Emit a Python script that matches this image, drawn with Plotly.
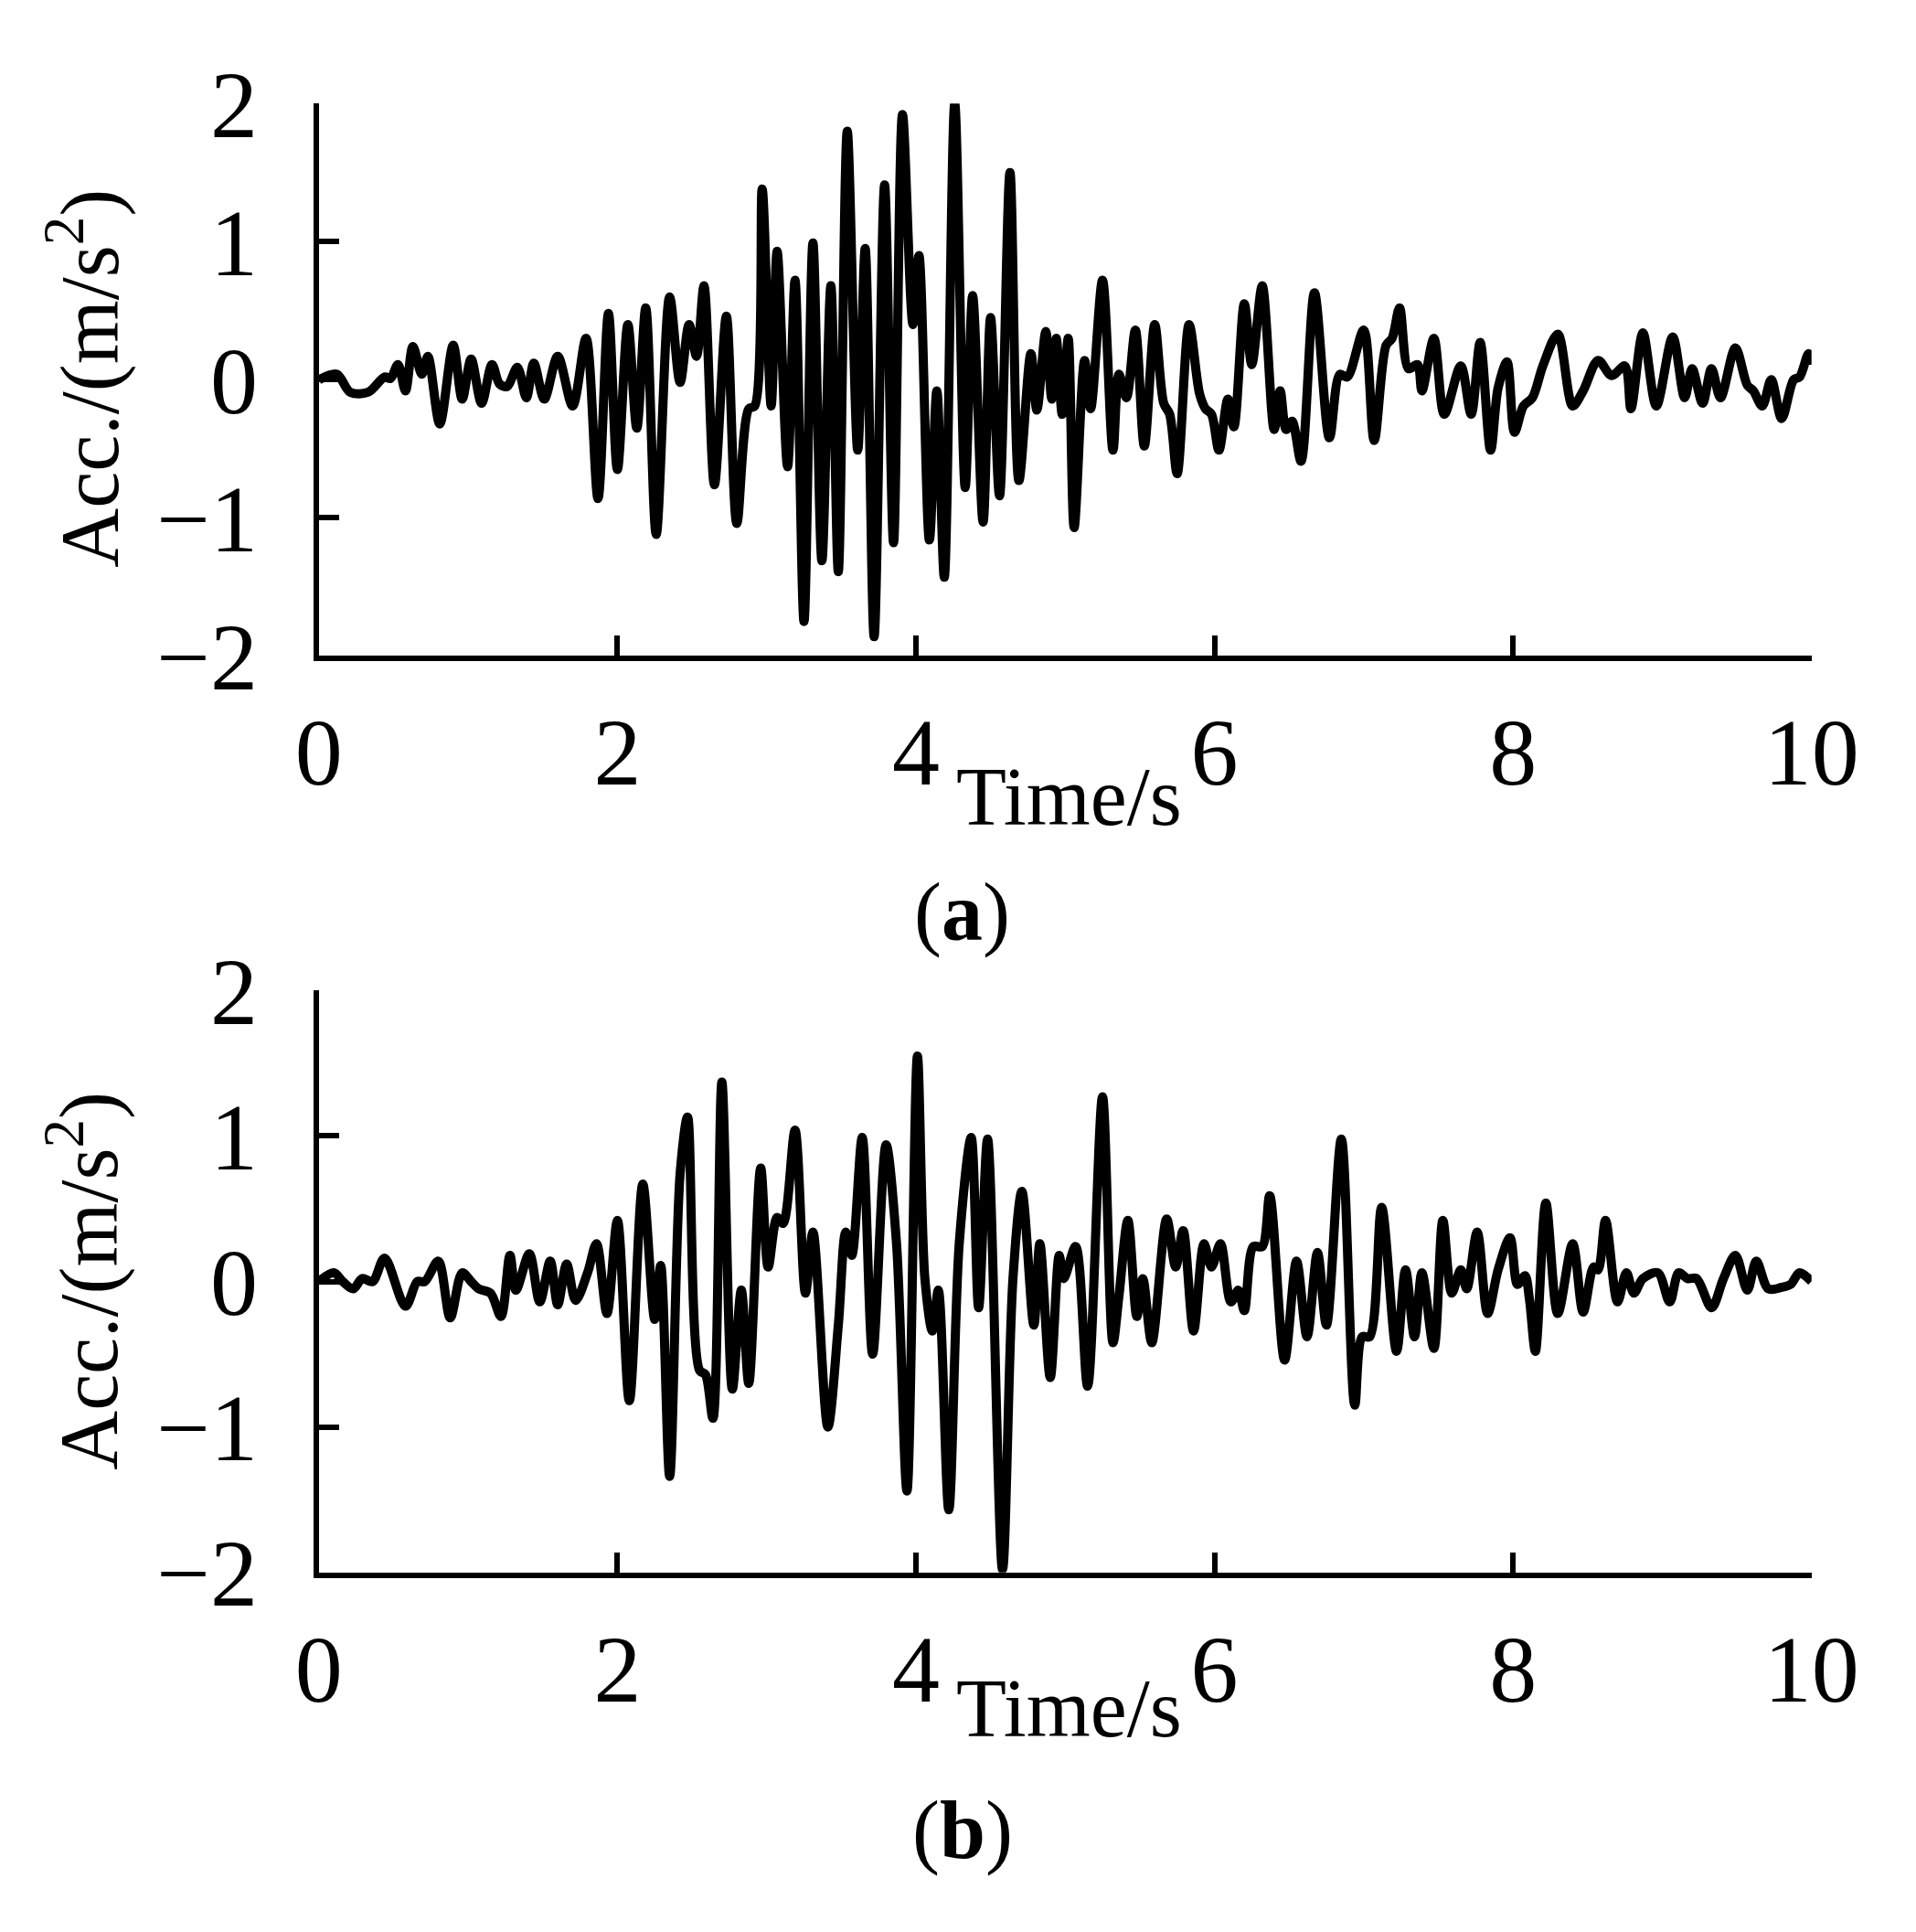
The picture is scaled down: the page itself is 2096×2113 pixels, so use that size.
import plotly.graph_objects as go

# Panel (a) waveform: extremum points
t_a = [0.00,0.12,0.21,0.33,0.44,0.48,0.53,0.58,0.63,0.69,0.73,0.81,0.90,0.96,1.02,1.09,1.16,1.21,1.26,1.33,1.39,1.44,1.51,1.60,1.70,1.79,1.87,1.94,2.00,2.07,2.13,2.19,2.26,2.35,2.42,2.48,2.53,2.58,2.65,2.73,2.80,2.88,2.92,2.97,3.03,3.07,3.14,3.19,3.25,3.31,3.37,3.43,3.48,3.54,3.61,3.66,3.72,3.79,3.85,3.91,3.98,4.02,4.09,4.14,4.19,4.26,4.33,4.38,4.45,4.50,4.56,4.63,4.69,4.77,4.81,4.87,4.91,4.94,4.98,5.02,5.06,5.13,5.17,5.25,5.32,5.36,5.41,5.47,5.53,5.60,5.66,5.70,5.75,5.83,5.90,5.94,5.98,6.03,6.09,6.13,6.20,6.25,6.32,6.40,6.44,6.48,6.52,6.58,6.67,6.77,6.84,6.89,7.00,7.07,7.15,7.19,7.24,7.30,7.36,7.39,7.47,7.54,7.65,7.72,7.78,7.85,7.90,7.96,8.01,8.07,8.13,8.20,8.30,8.40,8.47,8.57,8.66,8.75,8.79,8.87,8.96,9.07,9.15,9.20,9.27,9.33,9.39,9.49,9.57,9.61,9.67,9.73,9.80,9.88,9.92,9.98,10.00]
a_a = [0.00,0.04,-0.09,-0.09,0.02,0.01,0.11,-0.08,0.24,0.04,0.17,-0.32,0.25,-0.14,0.15,-0.17,0.11,-0.03,-0.05,0.09,-0.13,0.12,-0.14,0.17,-0.19,0.30,-0.86,0.48,-0.65,0.40,-0.35,0.52,-1.12,0.60,-0.02,0.40,0.17,0.68,-0.76,0.46,-1.04,-0.21,-0.19,1.38,-0.19,0.93,-0.63,0.72,-1.75,0.99,-1.31,0.68,-1.39,1.80,-0.51,0.95,-1.86,1.41,-1.18,1.92,0.40,0.90,-1.16,-0.08,-1.43,2.00,-0.78,0.61,-1.03,0.45,-0.84,1.50,-0.73,0.19,-0.22,0.35,-0.14,0.30,-0.25,0.30,-1.07,0.14,-0.21,0.72,-0.51,0.04,-0.13,0.36,-0.48,0.40,-0.17,-0.25,-0.68,0.40,-0.10,-0.21,-0.25,-0.51,-0.14,-0.34,0.55,0.11,0.68,-0.36,-0.08,-0.36,-0.30,-0.59,0.63,-0.42,0.04,0.02,0.36,-0.44,0.25,0.30,0.52,0.08,0.11,-0.08,0.30,-0.25,0.10,-0.25,0.27,-0.51,-0.06,0.13,-0.38,-0.19,-0.13,0.10,0.33,-0.19,-0.08,0.14,0.03,0.10,-0.21,0.34,-0.19,0.31,-0.13,0.08,-0.17,0.08,-0.13,0.23,-0.04,-0.08,-0.19,0.00,-0.28,0.00,0.02,0.19,0.11]

# Panel (b) waveform
t_b = [0.00,0.10,0.16,0.23,0.29,0.36,0.44,0.58,0.66,0.71,0.80,0.88,0.96,1.02,1.07,1.15,1.22,1.28,1.32,1.41,1.48,1.55,1.60,1.66,1.72,1.80,1.86,1.93,2.00,2.08,2.17,2.25,2.29,2.35,2.42,2.47,2.55,2.59,2.64,2.70,2.77,2.83,2.88,2.96,3.01,3.07,3.11,3.19,3.26,3.31,3.41,3.48,3.53,3.57,3.64,3.71,3.80,3.87,3.94,4.01,4.06,4.11,4.15,4.22,4.29,4.37,4.42,4.48,4.58,4.65,4.71,4.79,4.83,4.90,4.96,4.99,5.07,5.15,5.25,5.32,5.36,5.42,5.48,5.52,5.58,5.68,5.74,5.79,5.86,5.93,5.98,6.04,6.11,6.16,6.20,6.26,6.32,6.37,6.47,6.55,6.62,6.69,6.75,6.85,6.94,6.99,7.04,7.12,7.22,7.28,7.34,7.39,7.47,7.53,7.59,7.65,7.69,7.76,7.83,7.90,7.98,8.03,8.08,8.11,8.15,8.22,8.30,8.40,8.47,8.54,8.57,8.62,8.70,8.76,8.81,8.87,8.97,9.05,9.11,9.17,9.23,9.33,9.41,9.49,9.57,9.63,9.71,9.80,9.86,9.92,10.00]
a_b = [0.00,0.06,0.00,-0.05,0.02,0.00,0.16,-0.17,0.00,0.00,0.14,-0.25,0.06,0.00,-0.05,-0.08,-0.24,0.18,-0.06,0.19,-0.14,0.14,-0.16,0.12,-0.13,0.06,0.26,-0.22,0.42,-0.82,0.67,-0.26,0.11,-1.34,0.74,1.13,-0.61,-0.64,-0.94,1.37,-0.74,-0.06,-0.70,0.78,0.10,0.44,0.40,1.04,-0.08,0.34,-1.00,-0.30,0.34,0.18,0.99,-0.50,0.94,0.26,-1.44,1.55,0.02,-0.34,-0.06,-1.57,0.26,0.99,-0.18,0.98,-1.98,0.02,0.62,-0.30,0.26,-0.66,0.18,0.02,0.24,-0.72,1.27,-0.42,-0.10,0.42,-0.24,0.02,-0.42,0.43,0.10,0.35,-0.34,0.26,0.10,0.26,-0.14,-0.06,-0.20,0.24,0.24,0.59,-0.54,0.14,-0.38,0.20,-0.30,0.98,-0.85,-0.38,-0.38,0.51,-0.48,0.08,-0.38,0.06,-0.46,0.42,-0.08,0.08,-0.05,0.34,-0.22,0.08,0.30,-0.02,0.04,-0.12,-0.48,0.54,-0.22,0.26,-0.21,0.10,0.08,0.42,-0.14,0.06,-0.08,0.02,0.06,-0.14,0.06,0.02,0.02,-0.18,0.02,0.18,-0.06,0.14,-0.05,-0.04,-0.02,0.06,0.00]

x_ticks = [0, 2, 4, 6, 8, 10]
y_ticks = [-2, -1, 0, 1, 2]

W, H = 2096, 2113
FONT = "Liberation Serif"

def py(p):
    return 1 - p / H

fig = go.Figure()
fig.add_trace(go.Scatter(x=t_a, y=a_a, mode="lines", line=dict(color="black", width=10, shape="spline", smoothing=0.9), xaxis="x", yaxis="y"))
fig.add_trace(go.Scatter(x=t_b, y=a_b, mode="lines", line=dict(color="black", width=10, shape="spline", smoothing=0.9), xaxis="x2", yaxis="y2"))

xd = [327 / W, 2023 / W]
axis_common = dict(showline=True, linecolor="black", linewidth=6, ticks="inside", ticklen=22,
                   tickwidth=6, tickcolor="black", showgrid=False, zeroline=False,
                   tickfont=dict(family=FONT, size=104, color="black"))
fig.update_layout(
    width=W, height=H, margin=dict(l=0, r=0, t=0, b=0),
    paper_bgcolor="white", plot_bgcolor="white", showlegend=False,
    xaxis=dict(domain=xd, range=[0, 10], tickvals=x_ticks, anchor="y", ticklabelstandoff=10, **axis_common),
    yaxis=dict(domain=[py(690), py(51)], range=[-2, 2], tickvals=y_ticks, anchor="x", ticklabelstandoff=40, **axis_common),
    xaxis2=dict(domain=xd, range=[0, 10], tickvals=x_ticks, anchor="y2", ticklabelstandoff=10, **axis_common),
    yaxis2=dict(domain=[py(1750), py(1077)], range=[-2, 2], tickvals=y_ticks, anchor="x2", ticklabelstandoff=40, **axis_common),
)

def ann(text, xpx, ypx, size=90, angle=0):
    fig.add_annotation(text=text, x=xpx / W, y=py(ypx), xref="paper", yref="paper",
                       showarrow=False, textangle=angle, xanchor="center", yanchor="middle",
                       font=dict(family=FONT, size=size, color="black"))

ann("Time/s", 1179, 853)
ann("Time/s", 1179, 1907)
ann("(<b>a</b>)", 1058, 987)
ann("(<b>b</b>)", 1058, 2048)
ann("Acc./(m/s<sup>2</sup>)", 60, 369, angle=-90)
ann("Acc./(m/s<sup>2</sup>)", 60, 1413, angle=-90)

fig.write_html("out.html")
